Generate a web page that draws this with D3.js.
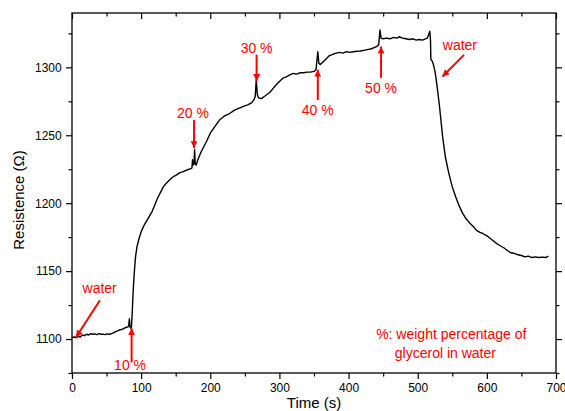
<!DOCTYPE html>
<html>
<head>
<meta charset="utf-8">
<script src="https://cdn.jsdelivr.net/npm/d3@7"></script>
<style>
  body { margin: 0; background: #fff; }
  svg { font-family: Arial, "Liberation Sans", sans-serif; }
  .axis path, .axis line { stroke: #000; stroke-width: 1.2; }
  .axis text { font-size: 12px; fill: #000; }
</style>
</head>
<body>
<svg id="chart" width="565" height="411"></svg>
<script>
// time (s) and resistance (ohm)
var time = [0, 3, 6, 9, 12, 15, 18, 21, 24, 27, 30, 33, 36, 39, 42, 45, 48, 51, 54, 57,
    60, 63, 66, 69, 72, 75, 78, 81, 82, 83, 83.8, 85, 86, 87, 88, 89, 90, 91, 92, 94,
    97, 100, 104, 108, 112, 116, 120, 124, 128, 132, 136, 140, 144, 148, 152, 156, 160, 164, 168, 172,
    173.5, 174.3, 175, 176.5, 177.3, 178.2, 179.5, 182, 186, 190, 195, 200, 206, 213, 220, 228, 235, 242, 249, 255,
    260, 263, 265, 266.5, 268, 270, 274, 278, 282, 286, 290, 295, 300, 305, 310, 315, 320, 325, 330, 335,
    340, 345, 350, 353, 355.5, 357, 359, 363, 367, 372, 377, 382, 387, 392, 397, 402, 407, 412, 417, 422,
    427, 432, 437, 441, 443.5, 445.5, 447, 450, 455, 460, 465, 470, 473, 478, 483, 488, 493, 498, 502, 507,
    511, 514, 517.5, 518.5, 519, 521, 523, 525, 527, 529, 531, 533, 536, 540, 545, 550, 555, 560, 565, 570,
    575, 580, 585, 590, 595, 600, 605, 610, 615, 620, 625, 630, 635, 640, 645, 650, 655, 660, 665, 670,
    675, 680, 685, 689];
var resistance = [1101, 1101.5, 1101, 1102, 1101.5, 1103, 1102.5, 1103.5, 1103, 1104, 1103.5, 1103.8, 1103.2, 1104, 1103.5, 1103.6, 1103.2, 1103.8, 1103.5, 1104,
    1104.5, 1105.5, 1106, 1106.8, 1107, 1107.8, 1108.5, 1109, 1110, 1115, 1109, 1108, 1109, 1118, 1130, 1140, 1148, 1155, 1161, 1168,
    1174, 1179, 1183.5, 1187, 1190.5, 1194, 1199, 1204, 1208, 1212, 1214.5, 1216.5, 1218.5, 1220, 1221, 1222.5, 1223, 1224, 1224.8, 1225.5,
    1226, 1232, 1228, 1229, 1239.5, 1229, 1228, 1232, 1237, 1241, 1246, 1251.5, 1256, 1261, 1264, 1266, 1268.5, 1270, 1271.5, 1272.5,
    1274, 1276, 1278.5, 1291, 1280, 1277.5, 1277, 1278.5, 1280, 1281.5, 1284, 1287, 1289.5, 1292, 1293, 1294.5, 1295.5, 1295, 1296, 1296,
    1296.5, 1296.5, 1297, 1298.5, 1311.5, 1303, 1302, 1304, 1306, 1308.5, 1309.5, 1310.5, 1311, 1310.5, 1311.5, 1311, 1311.5, 1311.8, 1312, 1312.5,
    1313, 1313.5, 1314.5, 1315.5, 1316.5, 1327.5, 1321.5, 1321, 1321.5, 1321, 1322, 1321.5, 1322.5, 1321.5, 1321, 1320.5, 1321, 1320, 1320.5, 1320,
    1321, 1321.5, 1326.5, 1320, 1306, 1304.5, 1301.5, 1297, 1290, 1282, 1273.5, 1264, 1249, 1234, 1222, 1212, 1204.5, 1198, 1192.5, 1188.5,
    1185.5, 1183, 1180, 1178.5, 1177.5, 1176, 1174, 1172, 1170, 1168.5, 1167, 1165, 1163.5, 1163, 1162, 1161.5, 1160.5, 1161, 1160, 1160.5,
    1160, 1160.3, 1160, 1161];

var xTicks = [0, 100, 200, 300, 400, 500, 600, 700];
var xMinor = [50, 150, 250, 350, 450, 550, 650];
var yTicks = [1100, 1150, 1200, 1250, 1300];
var yMinor = [1075, 1125, 1175, 1225, 1275, 1325];

// annotation labels: text position, arrow tail and arrow head, in data units
var annLabels = ["water", "10 %", "20 %", "30 %", "40 %", "50 %", "water"];
var annText = [[40, 1133.6], [84, 1076.9], [175, 1262.7], [267, 1310.7], [355.5, 1265], [447, 1281.4], [561, 1312.9]];
var annTail = [[40.4, 1128.5], [86.2, 1082.8], [176.5, 1261.3], [267, 1309.3], [355.5, 1276], [447, 1292.3], [567, 1309.2]];
var annHead = [[5.8, 1101.3], [86.2, 1107.9], [176.5, 1240.6], [267, 1290], [355.5, 1298.2], [447, 1315.3], [535.8, 1293.2]];
var noteLines = ["%: weight percentage of", "glycerol in water"];
var notePos = [[548.5, 1099.8], [540, 1085.8]];

var svg = d3.select("#chart");
var mLeft = 72, mRight = 556, mTop = 13, mBottom = 373;

var x = d3.scaleLinear().domain([0, 700]).range([mLeft, mRight]);
var y = d3.scaleLinear().domain([1075, 1340]).range([mBottom, mTop]);

var defs = svg.append("defs");
defs.append("marker")
    .attr("id", "head")
    .attr("viewBox", "0 0 10 10")
    .attr("refX", 10).attr("refY", 5)
    .attr("markerWidth", 4.2).attr("markerHeight", 3.4)
    .attr("markerUnits", "strokeWidth")
    .attr("orient", "auto")
  .append("path")
    .attr("d", "M0,0L10,5L0,10Z")
    .attr("fill", "red");

// axes (major + minor, mirrored inward on top/right)
function addAxis(gen, tr, vals, size, labels) {
    var g = svg.append("g").attr("class", "axis").attr("transform", tr);
    g.call(gen.tickValues(vals).tickSize(size).tickSizeOuter(0)
        .tickFormat(labels ? d3.format("d") : ""));
    g.select(".domain").remove();
    return g;
}
addAxis(d3.axisBottom(x).tickPadding(4.5), "translate(0," + mBottom + ")", xTicks, 6, true);
addAxis(d3.axisBottom(x), "translate(0," + mBottom + ")", xMinor, 3.5, false);
addAxis(d3.axisLeft(y).tickPadding(4.3), "translate(" + mLeft + ",0)", yTicks, 6, true);
addAxis(d3.axisLeft(y), "translate(" + mLeft + ",0)", yMinor, 3.5, false);
addAxis(d3.axisBottom(x), "translate(0," + mTop + ")", xTicks, 6, false);
addAxis(d3.axisBottom(x), "translate(0," + mTop + ")", xMinor, 3.5, false);
addAxis(d3.axisLeft(y), "translate(" + mRight + ",0)", yTicks, -6, false);
addAxis(d3.axisLeft(y), "translate(" + mRight + ",0)", yMinor, -3.5, false);

svg.append("rect")
    .attr("x", mLeft).attr("y", mTop)
    .attr("width", mRight - mLeft).attr("height", mBottom - mTop)
    .attr("fill", "none").attr("stroke", "#000").attr("stroke-width", 1.3);

// trace
var pts = time.map(function(t, i) { return [t, resistance[i]]; });
svg.append("path")
    .datum(pts)
    .attr("fill", "none")
    .attr("stroke", "#000")
    .attr("stroke-width", 1.4)
    .attr("stroke-linejoin", "round")
    .attr("d", d3.line().x(function(d) { return x(d[0]); }).y(function(d) { return y(d[1]); }));

// annotations
annLabels.forEach(function(lab, i) {
    svg.append("line")
        .attr("x1", x(annTail[i][0])).attr("y1", y(annTail[i][1]))
        .attr("x2", x(annHead[i][0])).attr("y2", y(annHead[i][1]))
        .attr("stroke", "red").attr("stroke-width", 2)
        .attr("marker-end", "url(#head)");
    svg.append("text")
        .attr("x", x(annText[i][0])).attr("y", y(annText[i][1]))
        .attr("text-anchor", "middle")
        .attr("font-size", 14).attr("fill", "red")
        .text(lab);
});
noteLines.forEach(function(s, i) {
    svg.append("text")
        .attr("x", x(notePos[i][0])).attr("y", y(notePos[i][1]))
        .attr("text-anchor", "middle")
        .attr("font-size", 14).attr("fill", "red")
        .text(s);
});

// axis titles
svg.append("text")
    .attr("x", (mLeft + mRight) / 2).attr("y", 408)
    .attr("text-anchor", "middle").attr("font-size", 15)
    .text("Time (s)");
svg.append("text")
    .attr("transform", "translate(24,200) rotate(-90)")
    .attr("text-anchor", "middle").attr("font-size", 15)
    .text("Resistence (\u03A9)");
</script>
</body>
</html>
